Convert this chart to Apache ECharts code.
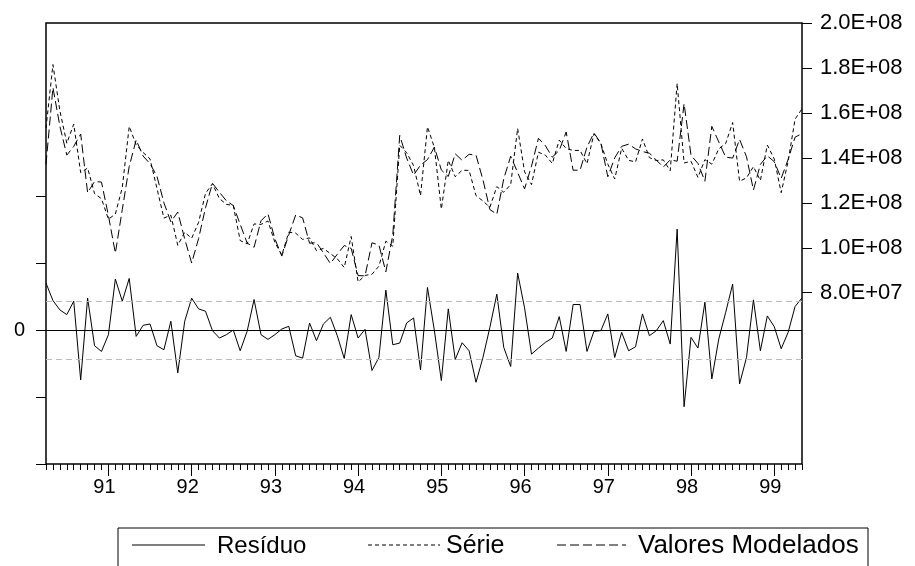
<!DOCTYPE html>
<html>
<head>
<meta charset="utf-8">
<script src="https://cdn.jsdelivr.net/npm/echarts@6/dist/echarts.min.js"></script>
<style>
  html, body { margin: 0; padding: 0; background: #fff; }
  #chart { width: 915px; height: 566px; }
</style>
</head>
<body>
<div id="chart"></div>
<script>
// meses de 1990M04 a 1999M05
var meses = [];
(function () {
  var a = 1990, m = 4;
  while (a < 1999 || (a === 1999 && m <= 5)) {
    meses.push(a + '-' + (m < 10 ? '0' : '') + m);
    m++;
    if (m > 12) { m = 1; a++; }
  }
})();

// valores em milhões
var residuo = [
  14.0, 8.8, 6.0, 4.6, 8.6, -14.9, 9.5, -4.7, -6.4, -1.4,
  15.2, 8.6, 15.4, -1.9, 1.4, 1.8, -4.7, -5.9, 2.6, -12.8,
  2.6, 9.5, 6.3, 5.6, -0.2, -2.4, -1.4, 0, -6.2, -0.4,
  9.1, -1.4, -2.8, -1.4, 0.3, 1.1, -7.7, -8.4, 2.1, -3.2,
  1.8, 3.8, -1.7, -8.5, 4.6, -2.4, 0.2, -12.1, -8.2, 11.9,
  -4.4, -3.9, 2.1, 3.6, -11.9, 12.7, -0.2, -15.1, 6.3, -8.8,
  -3.8, -6.2, -15.6, -8.2, 0.8, 10.7, -5.2, -10.9, 17.0, 6.6,
  -7.2, -5.4, -3.7, -2.4, 4.0, -6.4, 7.6, 7.6, -6.4, -0.4,
  -0.2, 4.8, -8.2, -0.7, -6.2, -5.0, 4.8, -1.7, -0.2, 2.8,
  -4.2, 30.1, -22.9, -2.2, -5.4, 8.3, -14.6, -2.7, 5.3, 13.7,
  -16.1, -8.2, 9.0, -6.2, 4.2, 1.0, -5.6, -0.7, 7.0, 9.6
];

var serie = [
  153.2, 181.5, 161.0, 146.5, 155.0, 133.4, 135.5, 124.1, 121.8, 112.7,
  115.0, 126.8, 154.0, 145.8, 142.4, 139.5, 126.4, 113.2, 114.5, 101.1,
  106.9, 104.2, 111.3, 124.2, 128.5, 121.9, 119.3, 118.8, 103.2, 101.7,
  110.6, 110.4, 111.9, 102.4, 96.7, 106.9, 106.5, 103.7, 104.4, 98.7,
  99.7, 97.4, 95.1, 91.2, 105.0, 84.8, 87.7, 88.2, 91.8, 102.9,
  100.7, 145.6, 142.3, 136.5, 123.2, 153.8, 144.6, 117.2, 138.9, 131.6,
  134.5, 134.4, 123.2, 120.8, 118.0, 127.2, 124.7, 128.1, 153.1, 133.8,
  128.1, 142.5, 141.2, 137.5, 147.9, 144.1, 143.3, 143.3, 137.4, 150.7,
  146.4, 137.2, 130.6, 144.3, 138.9, 138.2, 148.4, 140.1, 138.8, 139.1,
  134.3, 173.1, 137.7, 138.5, 131.3, 139.2, 137.2, 144.0, 146.4, 155.7,
  129.6, 131.1, 136.1, 129.9, 145.7, 139.5, 124.5, 138.5, 157.2, 161.8
];

var modelados = [
  137.1, 171.3, 154.1, 141.2, 145.1, 150.6, 124.5, 129.5, 129.2, 114.3,
  97.6, 117.0, 136.2, 148.0, 140.8, 137.4, 131.8, 120.0, 111.5, 115.9,
  103.9, 93.2, 104.1, 117.8, 128.7, 124.7, 120.9, 118.8, 110.4, 102.1,
  100.2, 112.0, 115.1, 104.0, 96.3, 105.7, 114.6, 113.3, 102.0, 102.3,
  97.7, 93.0, 97.1, 101.0, 99.7, 87.6, 87.5, 102.2, 101.2, 89.3,
  105.7, 150.0, 139.9, 132.3, 136.8, 139.2, 144.8, 134.6, 131.7, 141.8,
  138.9, 141.6, 141.2, 130.2, 117.0, 114.9, 130.7, 140.7, 133.5, 126.2,
  136.3, 148.7, 145.4, 140.3, 143.3, 151.5, 134.5, 134.5, 144.8, 151.1,
  146.6, 131.6, 140.0, 145.1, 146.1, 144.0, 142.8, 142.1, 139.0, 135.9,
  139.1, 138.5, 164.1, 141.1, 137.5, 129.6, 154.0, 147.1, 140.3, 139.9,
  148.2, 140.5, 125.7, 137.1, 140.9, 138.3, 130.9, 139.3, 149.2, 150.8
];

var desvio = 8.7;   // linhas tracejadas de +/- 1 desvio padrão

var fonte = '"Liberation Sans", Arial, sans-serif';

function ehJaneiro(idx, val) { return val.slice(5) === '01'; }

// 2.0E+08
function cientifico(v) {
  var x = v * 1e6;
  var e = Math.floor(Math.log10(x) + 1e-9);
  var m = x / Math.pow(10, e);
  return m.toFixed(1) + 'E+' + (e < 10 ? '0' : '') + e;
}

var myChart = echarts.init(document.getElementById('chart'), null, { renderer: 'canvas' });

var option = {
  animation: false,
  backgroundColor: '#fff',
  textStyle: { fontFamily: fonte, color: '#000' },
  grid: [
    { left: 46, right: 113, top: 23, bottom: 102, show: true, borderColor: '#000', borderWidth: 1.5 },
    { left: 46, right: 113, top: 196, bottom: 102 },
    { left: 46, right: 113, top: 23, height: 269.7 }
  ],
  xAxis: [
    {
      gridIndex: 0, type: 'category', data: meses, boundaryGap: false, position: 'bottom',
      axisLine: { show: false, onZero: false },
      axisTick: { interval: 0, length: 6, lineStyle: { color: '#000', width: 1 } },
      axisLabel: { show: false },
      splitLine: { show: false }
    },
    {
      gridIndex: 1, type: 'category', data: meses, boundaryGap: false, position: 'bottom',
      axisLine: { show: false, onZero: false },
      axisTick: { interval: ehJaneiro, length: 12, lineStyle: { color: '#000', width: 1 } },
      axisLabel: {
        interval: ehJaneiro, margin: 13, fontSize: 20, color: '#000', fontFamily: fonte,
        padding: [0, 8, 0, 0],
        formatter: function (v) { return v.slice(2, 4); }
      },
      splitLine: { show: false }
    },
    { gridIndex: 2, type: 'category', data: meses, boundaryGap: false, show: false, axisLine: { onZero: false } }
  ],
  yAxis: [
    { gridIndex: 0, type: 'value', show: false },
    {
      gridIndex: 1, type: 'value', min: -40, max: 40, interval: 20, position: 'left',
      axisLine: { show: false, onZero: false },
      axisTick: { show: true, length: 10, lineStyle: { color: '#000', width: 1 } },
      axisLabel: {
        margin: 21, fontSize: 20, color: '#000', fontFamily: fonte, padding: [0, 0, 9, 0],
        formatter: function (v) { return v === 0 ? '0' : ''; }
      },
      splitLine: { show: false }
    },
    {
      gridIndex: 2, type: 'value', min: 80, max: 200, interval: 20, position: 'right',
      axisLine: { show: false, onZero: false },
      axisTick: { show: true, length: 10, lineStyle: { color: '#000', width: 1 } },
      axisLabel: {
        margin: 18, fontSize: 22, color: '#000', fontFamily: fonte, padding: [0, 0, 7, 0],
        formatter: cientifico
      },
      splitLine: { show: false }
    }
  ],
  series: [
    {
      name: 'Resíduo', type: 'line', xAxisIndex: 1, yAxisIndex: 1,
      data: residuo, symbol: 'none', clip: false,
      lineStyle: { color: '#000', width: 1 },
      markLine: {
        silent: true, symbol: 'none', label: { show: false },
        data: [
          { yAxis: 0, lineStyle: { color: '#000', type: 'solid', width: 1 } },
          { yAxis: desvio, lineStyle: { color: '#bdbdbd', type: [6, 4], width: 1 } },
          { yAxis: -desvio, lineStyle: { color: '#bdbdbd', type: [6, 4], width: 1 } }
        ]
      }
    },
    {
      name: 'Série', type: 'line', xAxisIndex: 2, yAxisIndex: 2,
      data: serie, symbol: 'none', clip: false,
      lineStyle: { color: '#000', width: 1, type: [4, 3] }
    },
    {
      name: 'Valores Modelados', type: 'line', xAxisIndex: 2, yAxisIndex: 2,
      data: modelados, symbol: 'none', clip: false,
      lineStyle: { color: '#000', width: 1, type: [9, 4] }
    }
  ],
  // legenda desenhada à mão, como no original
  graphic: [
    { type: 'rect', shape: { x: 118, y: 528, width: 750, height: 60 }, style: { fill: 'none', stroke: '#000', lineWidth: 1 } },
    { type: 'line', shape: { x1: 132, y1: 545, x2: 205, y2: 545 }, style: { stroke: '#000', lineWidth: 1 } },
    { type: 'text', x: 217, y: 546, style: { text: 'Resíduo', font: '24px ' + fonte, fill: '#000', verticalAlign: 'middle' } },
    { type: 'line', shape: { x1: 368, y1: 545, x2: 440, y2: 545 }, style: { stroke: '#000', lineWidth: 1, lineDash: [4, 3] } },
    { type: 'text', x: 446, y: 546, style: { text: 'Série', font: '25px ' + fonte, fill: '#000', verticalAlign: 'middle' } },
    { type: 'line', shape: { x1: 557, y1: 545, x2: 626, y2: 545 }, style: { stroke: '#000', lineWidth: 1, lineDash: [9, 4] } },
    { type: 'text', x: 638, y: 546, style: { text: 'Valores Modelados', font: '26px ' + fonte, fill: '#000', verticalAlign: 'middle' } }
  ]
};

myChart.setOption(option);
</script>
</body>
</html>
